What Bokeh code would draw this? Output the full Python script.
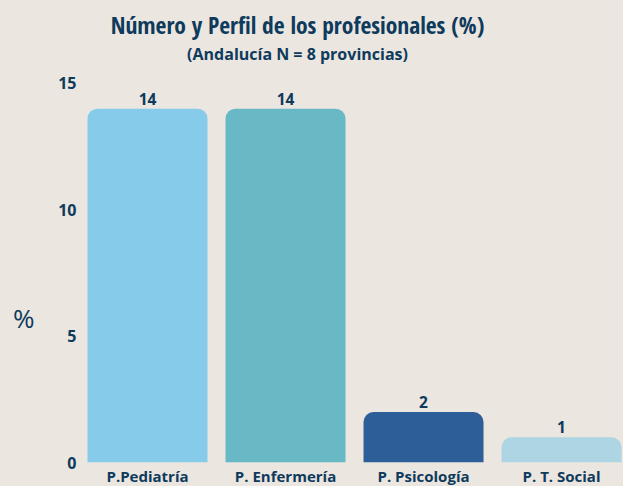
from bokeh.plotting import figure
from bokeh.models import Range1d, FixedTicker, Label, ColumnDataSource, LinearAxis
from bokeh.embed import file_html
from bokeh.resources import INLINE
from bokeh.core.properties import value

# ---- data ----
categories = ["P.Pediatría", "P. Enfermería", "P. Psicología", "P. T. Social"]
values = [14, 14, 2, 1]
bar_colors = ["#87CBEB", "#68B8C6", "#2E5E97", "#AED5E3"]
y_ticks = [0, 5, 10, 15]
title_text = "Número y Perfil de los profesionales (%)"
subtitle_text = "(Andalucía N = 8 provincias)"
y_unit_label = "%"

BG = "#EBE6E0"
NAVY = "#0E3A5C"
FONT = "Open Sans"
CFONT = "Open Sans Condensed, Open Sans"

xs = list(range(len(categories)))
src = ColumnDataSource(dict(x=xs, top=values, color=bar_colors,
                            label=[str(v) for v in values]))

p = figure(frame_width=543, frame_height=462, output_backend="svg",
           toolbar_location=None,
           x_range=Range1d(-0.4855, 3.449), y_range=Range1d(0, 18.28),
           min_border_left=80, min_border_right=0, min_border_top=0,
           min_border_bottom=24)
p.background_fill_color = BG
p.border_fill_color = BG
p.outline_line_color = None
p.grid.visible = False

p.vbar(x="x", top="top", width=0.8696, bottom=0, color="color", source=src,
       line_color=None, border_radius=(10, 10, 0, 0))

p.text(x="x", y="top", text="label", source=src, text_align="center",
       text_baseline="alphabetic", y_offset=-10, text_font=value(FONT),
       text_font_style="bold", text_font_size="15.5px", text_color=NAVY)

# axes
p.yaxis.ticker = FixedTicker(ticks=y_ticks)
p.yaxis.axis_line_color = None
p.yaxis.major_tick_line_color = None
p.yaxis.minor_tick_line_color = None
p.yaxis.major_tick_out = 0
p.yaxis.major_tick_in = 0
p.yaxis.minor_tick_out = 0
p.yaxis.major_label_standoff = 4
p.yaxis.major_label_text_font = FONT
p.yaxis.major_label_text_font_style = "bold"
p.yaxis.major_label_text_font_size = "16px"
p.yaxis.major_label_text_color = NAVY

unit_pos = 5.70
unit_axis = LinearAxis(ticker=FixedTicker(ticks=[unit_pos]),
                       major_label_overrides={unit_pos: y_unit_label},
                       axis_line_color=None, major_tick_line_color=None,
                       minor_tick_line_color=None, major_tick_out=0,
                       major_tick_in=0, minor_tick_out=0,
                       major_label_standoff=21,
                       major_label_text_font=FONT, major_label_text_font_size="26px",
                       major_label_text_color=NAVY)
p.add_layout(unit_axis, "left")

p.xaxis.ticker = FixedTicker(ticks=xs)
p.xaxis.major_label_overrides = {i: c for i, c in zip(xs, categories)}
p.xaxis.axis_line_color = None
p.xaxis.major_tick_line_color = None
p.xaxis.minor_tick_line_color = None
p.xaxis.major_tick_out = 0
p.xaxis.major_tick_in = 0
p.xaxis.minor_tick_out = 0
p.xaxis.major_label_standoff = 3
p.xaxis.major_label_text_font = FONT
p.xaxis.major_label_text_font_style = "bold"
p.xaxis.major_label_text_font_size = "15px"
p.xaxis.major_label_text_color = NAVY

# titles
p.add_layout(Label(x=1.087, y=17.33, text=title_text, text_align="center",
                   text_baseline="alphabetic", text_font=CFONT, text_font_style="bold",
                   text_font_size="23.5px", text_color=NAVY))
p.add_layout(Label(x=1.087, y=16.15, text=subtitle_text, text_align="center",
                   text_baseline="alphabetic", text_font=FONT, text_font_style="bold",
                   text_font_size="16px", text_color=NAVY))

template = """{% block postamble %}<style>body{background-color:#EBE6E0;}</style>{% endblock %}"""
open("out.html", "w").write(file_html(p, INLINE, template=template))
